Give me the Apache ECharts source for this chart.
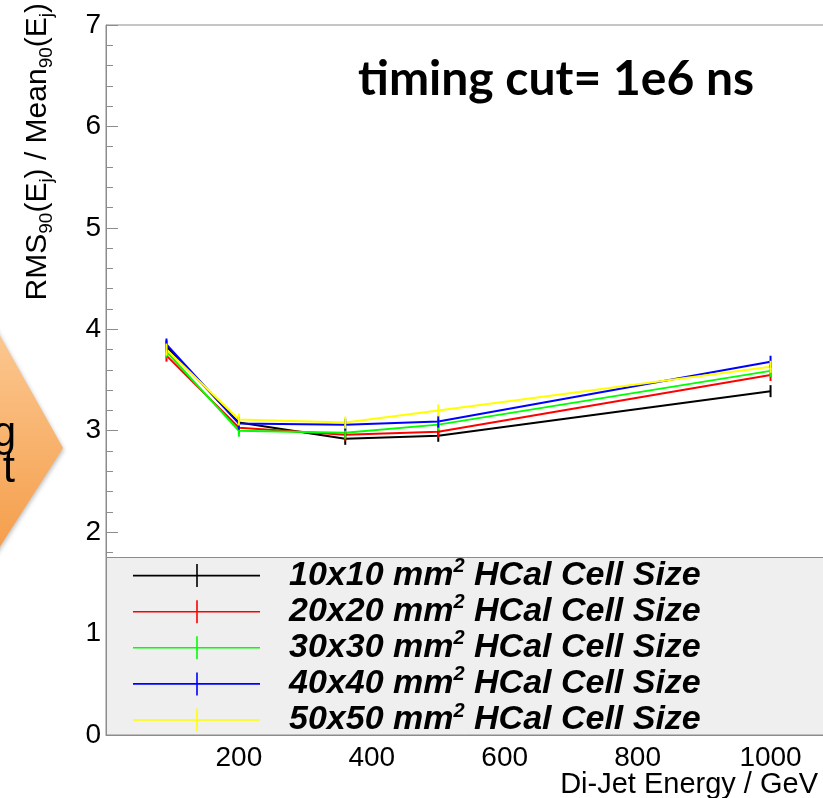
<!DOCTYPE html>
<html>
<head>
<meta charset="utf-8">
<script src="https://cdn.jsdelivr.net/npm/echarts@6/dist/echarts.min.js"></script>
<style>
  html, body { margin: 0; padding: 0; background: #fff; }
  #main { width: 823px; height: 798px; }
</style>
</head>
<body>
<div id="main"></div>
<script>
// di-jet energies (GeV) and jet energy resolution per HCal cell size
var energies = [91, 200, 360, 500, 1000];
var cellSizes = ['10x10', '20x20', '30x30', '40x40', '50x50'];
var colors = ['#000000', '#ff0000', '#00ff00', '#0000ff', '#ffff00'];
var res10 = [3.83, 3.08, 2.92, 2.95, 3.39];
var res20 = [3.74, 3.03, 2.96, 2.99, 3.55];
var res30 = [3.78, 3.00, 2.98, 3.06, 3.59];
var res40 = [3.85, 3.07, 3.06, 3.09, 3.68];
var res50 = [3.80, 3.11, 3.08, 3.20, 3.63];
var allRes = [res10, res20, res30, res40, res50];

var myChart = echarts.init(document.getElementById('main'));
var axisGray = '#8c8c8c';
var font = 'Liberation Sans';

var series = cellSizes.map(function (size, i) {
    return {
        name: size,
        type: 'line',
        data: energies.map(function (e, j) { return [e, allRes[i][j]]; }),
        symbol: 'rect',
        symbolSize: [2, 12],
        showAllSymbol: true,
        itemStyle: { color: colors[i] },
        lineStyle: { color: colors[i], width: 2 }
    };
});

var option = {
    animation: false,
    title: {
        text: 'timing cut= 1e6 ns',
        left: 353,
        top: 51,
        textStyle: { fontFamily: 'Lato', fontWeight: 'bold', fontSize: 48, color: '#000' }
    },
    grid: {
        left: 106, top: 25, width: 731, height: 710,
        containLabel: false,
        outerBoundsMode: 'none',
        show: true, borderColor: axisGray, borderWidth: 1
    },
    legend: {
        data: cellSizes,
        orient: 'vertical',
        left: 133,
        top: 556.6,
        z: 5,
        selectedMode: false,
        itemWidth: 127,
        itemHeight: 23,
        itemGap: 0.1,
        padding: 0,
        icon: 'path://M0,10.7h127v1.6H0z M63.2,0h1.6v23h-1.6z',
        formatter: function (name) {
            return '{a|' + name + ' mm}{b|2}{a| HCal Cell Size}';
        },
        textStyle: {
            padding: [0, 0, 0, 24],
            rich: {
                a: { fontFamily: font, fontSize: 34, fontWeight: 'bold', fontStyle: 'italic', color: '#000', lineHeight: 38 },
                b: { fontFamily: font, fontSize: 20, fontWeight: 'bold', fontStyle: 'italic', color: '#000', verticalAlign: 'top', lineHeight: 10 }
            }
        }
    },
    xAxis: {
        type: 'value',
        min: 0, max: 1100, interval: 200,
        name: 'Di-Jet Energy / GeV',
        nameLocation: 'end',
        nameGap: -19,
        nameMoveOverlap: false,
        nameTextStyle: { fontFamily: font, fontSize: 29, color: '#000', align: 'right', verticalAlign: 'top', padding: [35, 0, 0, 0] },
        axisLine: { show: true, lineStyle: { color: axisGray } },
        axisTick: { show: false },
        splitLine: { show: false },
        axisLabel: {
            fontFamily: font, fontSize: 28, color: '#000', margin: 9,
            showMinLabel: false, showMaxLabel: false,
            formatter: function (v) { return String(v); }
        }
    },
    yAxis: {
        type: 'value',
        min: 0, max: 7, interval: 1,
        name: '{m|RMS}{s|90}{m|(E}{s|j}{m|) / Mean}{s|90}{m|(E}{s|j}{m|)}',
        nameLocation: 'end',
        nameRotate: 90,
        nameGap: 22,
        nameMoveOverlap: false,
        nameTextStyle: {
            align: 'right', verticalAlign: 'bottom', padding: [0, 0, 50, 0],
            rich: {
                m: { fontFamily: font, fontSize: 30, color: '#000', lineHeight: 36 },
                s: { fontFamily: font, fontSize: 19, color: '#000', lineHeight: 19, verticalAlign: 'bottom' }
            }
        },
        axisLine: { show: true, lineStyle: { color: axisGray } },
        axisTick: { show: true, inside: true, length: 12, lineStyle: { color: axisGray } },
        minorTick: { show: true, splitNumber: 5, length: 7, lineStyle: { color: axisGray } },
        splitLine: { show: false },
        axisLabel: { fontFamily: font, fontSize: 28, color: '#000', margin: 5 }
    },
    graphic: [
        {
            // legend box
            type: 'rect', z: 3,
            shape: { x: 106.5, y: 557.5, width: 740, height: 177.5 },
            style: { fill: '#efefef', stroke: axisGray, lineWidth: 1 }
        },
        {
            type: 'polygon',
            shape: { points: [[-10, 318], [63, 448], [-10, 562]] },
            style: {
                fill: new echarts.graphic.LinearGradient(0, 0, 0, 1, [
                    { offset: 0, color: '#fcca94' },
                    { offset: 1, color: '#f49c48' }
                ]),
                shadowBlur: 4, shadowColor: 'rgba(0,0,0,0.25)', shadowOffsetX: 1, shadowOffsetY: 2
            }
        },
        {
            type: 'text', x: 16, y: 434,
            style: { text: 'timing', fontFamily: font, fontSize: 42, fill: '#000', align: 'right', verticalAlign: 'middle' }
        },
        {
            type: 'text', x: 15, y: 470,
            style: { text: 'cut', fontFamily: font, fontSize: 44, fill: '#000', align: 'right', verticalAlign: 'middle' }
        }
    ],
    series: series
};
myChart.setOption(option);
</script>
</body>
</html>
